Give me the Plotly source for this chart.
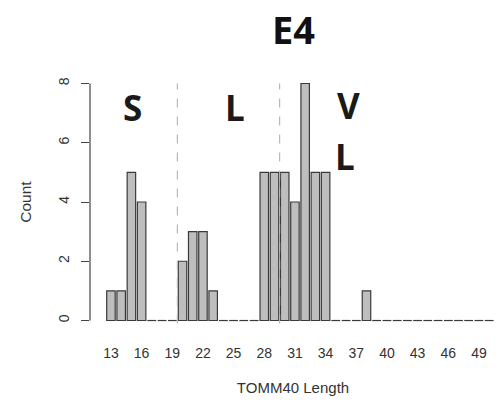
import plotly.graph_objects as go

# TOMM40 poly-T length counts for the E4 group
lengths = list(range(13, 51))
counts = [1, 1, 5, 4, 0, 0, 0, 2, 3, 3, 1, 0, 0, 0, 0, 5, 5, 5, 4, 8, 5, 5,
          0, 0, 0, 1, 0, 0, 0, 0, 0, 0, 0, 0, 0, 0, 0, 0]
tick_vals = list(range(13, 50, 3))
tick_text = [str(v) for v in tick_vals]
y_ticks = [0, 2, 4, 6, 8]

# class boundaries between short / long / very long
boundaries = [19.5, 29.5]
region_labels = [("S", 15.1, 7.2), ("L", 25.1, 7.2), ("V", 36.2, 7.25), ("L", 35.9, 5.55)]

bar_w = 0.83
fill = "#bebebe"
edge = "#3a3a3a"

fig = go.Figure()
fig.add_trace(go.Bar(
    x=lengths, y=counts, width=bar_w,
    marker=dict(color=fill, line=dict(color=edge, width=1.2)),
    showlegend=False, hoverinfo="x+y",
))

# empty classes are drawn as flat outlines on the baseline
zx, zy = [], []
for L, c in zip(lengths, counts):
    if c == 0:
        zx += [L - bar_w / 2, L + bar_w / 2, None]
        zy += [0, 0, None]
fig.add_trace(go.Scatter(x=zx, y=zy, mode="lines", line=dict(color=edge, width=1.2),
                         showlegend=False, hoverinfo="skip"))

shapes = []
for b in boundaries:
    shapes.append(dict(type="line", xref="x", yref="y", x0=b, x1=b, y0=-0.1, y1=8,
                       line=dict(color="#b8b8b8", width=1.2, dash="dash"), layer="above"))
# y axis line spans only the tick range
shapes.append(dict(type="line", xref="paper", yref="y", x0=0, x1=0, y0=0, y1=8,
                   line=dict(color="#444444", width=1.2)))

annotations = [dict(text="<b>E4</b>", xref="paper", yref="paper", x=0.502, y=1.177,
                    xanchor="center", yanchor="middle",
                    showarrow=False, font=dict(family="Open Sans", size=38, color="#111111"))]
for txt, xv, yv in region_labels:
    annotations.append(dict(text=f"<b>{txt}</b>", x=xv, y=yv, xref="x", yref="y", showarrow=False,
                            font=dict(family="Open Sans", size=35, color="#1a1a1a")))

fig.update_layout(
    width=496, height=401,
    margin=dict(l=90, r=0, t=73.5, b=70.5),
    plot_bgcolor="white", paper_bgcolor="white",
    bargap=0.17,
    shapes=shapes, annotations=annotations,
    font=dict(family="Liberation Sans, Arial", color="#333333"),
    xaxis=dict(range=[10.95, 50.67], tickmode="array", tickvals=tick_vals, ticktext=tick_text,
               showline=False, showgrid=False, zeroline=False, ticks="",
               ticklabelstandoff=13,
               tickfont=dict(size=14, color="#333333"),
               title=dict(text="TOMM40 Length", font=dict(size=15, color="#333333"), standoff=22)),
    yaxis=dict(range=[-0.32, 8.32], tickmode="array", tickvals=y_ticks,
               showline=False, showgrid=False, zeroline=False,
               ticks="outside", ticklen=8, tickwidth=1.2, tickcolor="#444444",
               ticklabelstandoff=6,
               tickangle=-90, tickfont=dict(size=14, color="#333333"),
               title=dict(text="Count", font=dict(size=15.5, color="#333333"), standoff=20)),
)

fig.write_html("out.html")
